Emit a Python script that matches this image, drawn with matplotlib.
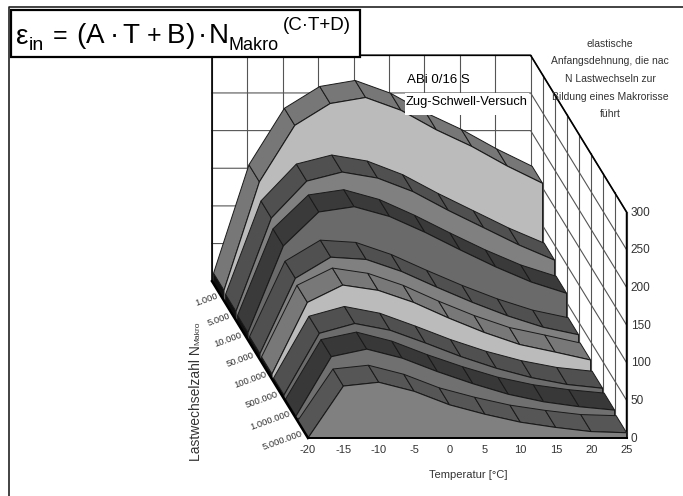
#!/usr/bin/env python3
"""Oblique 3-D area chart: elastic strain vs temperature and load cycles."""

import matplotlib
matplotlib.use("Agg")
import matplotlib.pyplot as plt
from matplotlib.patches import Polygon, Rectangle

plt.rcParams['font.family'] = ['Liberation Sans', 'DejaVu Sans']

# =============================================================================
# Data
# =============================================================================
temps = [-20, -15, -10, -5, 0, 5, 10, 15, 20, 25]
cycle_labels = ["5.000.000", "1.000.000", "500.000", "100.000",
                "50.000", "10.000", "5.000", "1.000"]
z_ticks = [0, 50, 100, 150, 200, 250, 300]

# one series per load cycle count, front to back
s_5000000 = [0, 69, 74, 62, 44, 31.5, 21, 14, 8.5, 7]
s_1000000 = [3, 82, 92, 80, 62, 46, 32, 22, 15.5, 11]
s_500000 = [5, 87, 100, 91, 74, 56, 40.5, 28, 19, 14]
s_100000 = [7, 102, 125, 118, 102, 81, 62, 46, 36, 25.5]
s_50000 = [8, 108, 136, 133, 117, 96, 76, 58, 43, 33]
s_10000 = [10, 125, 170, 177, 164, 143, 119.5, 97, 77, 62]
s_5000 = [12, 136, 185, 197, 189, 171, 146, 123, 100, 80]
s_1000 = [14, 158, 233, 262, 270, 253, 227, 205, 179, 156]
series = [s_5000000, s_1000000, s_500000, s_100000,
          s_50000, s_10000, s_5000, s_1000]

front_cols = ['#808080', '#707070', '#6c6c6c', '#bbbbbb',
              '#808080', '#6a6a6a', '#808080', '#bbbbbb']
top_cols = ['#565656', '#383838', '#505050', '#787878',
            '#505050', '#3a3a3a', '#505050', '#777777']

# oblique projection, in pixels of the picture
X0, Y0 = 308.0, 438.0
DX = 35.4
DEPTH_X, DEPTH_Y = 12.0, 19.6
ZS = 0.753
RIBBON = 0.87
N_DEPTH = 8


def proj(i, d, z):
    return X0 + DX * i - DEPTH_X * d, Y0 - DEPTH_Y * d - ZS * z


fig = plt.figure(figsize=(6.83, 4.96), dpi=100)
ax = fig.add_axes([0, 0, 1, 1])
ax.set_xlim(0, 683)
ax.set_ylim(496, 0)
ax.axis('off')

# ── walls ────────────────────────────────────────────────────────────────────
n = len(temps) - 1
zmax = z_ticks[-1]
GRID = '#555555'
for i in range(n + 1):
    p = [proj(i, N_DEPTH, 0), proj(i, N_DEPTH, zmax)]
    ax.plot(*zip(*p), color=GRID, lw=0.8, zorder=1)
for z in z_ticks:
    p = [proj(0, N_DEPTH, z), proj(n, N_DEPTH, z), proj(n, 0, z)]
    ax.plot(*zip(*p), color=GRID, lw=0.8, zorder=1)
for d in range(N_DEPTH):
    p = [proj(n, d, 0), proj(n, d, zmax)]
    ax.plot(*zip(*p), color=GRID, lw=0.8, zorder=1)

outline = [proj(0, N_DEPTH, 0), proj(0, N_DEPTH, zmax), proj(n, N_DEPTH, zmax),
           proj(n, 0, zmax), proj(n, 0, 0)]
ax.plot(*zip(*outline), color='black', lw=1.2, zorder=1.5)

# ── ribbons, back to front ───────────────────────────────────────────────────
EDGE = '#1a1a1a'
zo = 2
for d in range(len(series) - 1, -1, -1):
    vals = series[d]
    # left end
    end = [proj(0, d, 0), proj(0, d + RIBBON, 0),
           proj(0, d + RIBBON, vals[0]), proj(0, d, vals[0])]
    ax.add_patch(Polygon(end, closed=True, fc='#111111', ec='#111111', lw=0.6, zorder=zo))
    # top segments
    for i in range(n):
        quad = [proj(i, d, vals[i]), proj(i + 1, d, vals[i + 1]),
                proj(i + 1, d + RIBBON, vals[i + 1]), proj(i, d + RIBBON, vals[i])]
        ax.add_patch(Polygon(quad, closed=True, fc=top_cols[d], ec=EDGE, lw=0.7, zorder=zo))
    # front face
    face = [proj(0, d, 0)] + [proj(i, d, vals[i]) for i in range(n + 1)] + [proj(n, d, 0)]
    ax.add_patch(Polygon(face, closed=True, fc=front_cols[d], ec=EDGE, lw=0.8, zorder=zo))
    zo += 1

ax.plot(*zip(proj(0, N_DEPTH, 0), proj(0, 0, 0)), color='black', lw=1.8, zorder=zo)
ax.plot(*zip(proj(0, 0, 0), proj(n, 0, 0)), color='black', lw=1.4, zorder=zo)
zo += 1

# ── tick labels ──────────────────────────────────────────────────────────────
TXT = '#333333'
for i, t in enumerate(temps):
    x, y = proj(i, 0, 0)
    ax.text(x, y + 12, str(t), ha='center', va='center', fontsize=8, color=TXT, zorder=zo)
for z in z_ticks:
    x, y = proj(n, 0, z)
    ax.text(x + 4, y + 0.5, str(z), ha='left', va='center', fontsize=8.5, color=TXT, zorder=zo)
for d, lab in enumerate(cycle_labels):
    x, y = proj(0, d, 0)
    ax.text(x - 6, y - 5, lab, ha='right', va='center', rotation=20, rotation_mode='anchor',
            fontsize=6.8, color=TXT, zorder=zo)

ax.text(468, 475, "Temperatur [°C]", ha='center', va='center', fontsize=8, color=TXT)
ax.text(196, 403, "Lastwechselzahl N", ha='center', va='center', rotation=90, fontsize=10, color=TXT)
ax.text(198, 333, "Makro", ha='center', va='center', rotation=90, fontsize=6, color=TXT)

ann_lines = ["elastische", "Anfangsdehnung, die nac", "N Lastwechseln zur",
             "Bildung eines Makrorisse", "führt"]
for k, line in enumerate(ann_lines):
    ax.text(610, 44 + 17.5 * k, line, ha='center', va='center', fontsize=7.5, color=TXT, zorder=zo)

# ── series note ──────────────────────────────────────────────────────────────
ax.add_patch(Rectangle((405, 93), 124, 22, fc='white', ec='none', zorder=zo))
ax.text(407, 80, "ABi 0/16 S", ha='left', va='center', fontsize=9.5, color='black', zorder=zo + 1)
ax.text(406, 102, "Zug-Schwell-Versuch", ha='left', va='center', fontsize=9.3, color='black', zorder=zo + 1)

# ── formula box ──────────────────────────────────────────────────────────────
ax.add_patch(Rectangle((10.5, 10), 349, 47, fc='white', ec='black', lw=1.6, zorder=zo))
ft = zo + 1
ax.text(16, 37, "ε", ha='left', va='center', fontsize=20, zorder=ft)
ax.text(29, 45, "in", ha='left', va='center', fontsize=14, zorder=ft)
ax.text(53, 36, "=", ha='left', va='center', fontsize=18, zorder=ft)
ax.text(76, 36, "(", ha='left', va='center', fontsize=20, zorder=ft)
ax.text(86, 36, "A", ha='left', va='center', fontsize=20, zorder=ft)
ax.text(110, 36, "·", ha='left', va='center', fontsize=20, zorder=ft)
ax.text(122, 36, "T", ha='left', va='center', fontsize=20, zorder=ft)
ax.text(147, 36, "+", ha='left', va='center', fontsize=18, zorder=ft)
ax.text(167, 36, "B", ha='left', va='center', fontsize=20, zorder=ft)
ax.text(186, 36, ")", ha='left', va='center', fontsize=20, zorder=ft)
ax.text(198, 36, "·", ha='left', va='center', fontsize=20, zorder=ft)
ax.text(209, 36, "N", ha='left', va='center', fontsize=20, zorder=ft)
ax.text(229, 45, "Makro", ha='left', va='center', fontsize=13, zorder=ft)
ax.text(283, 25, "(C·T+D)", ha='left', va='center', fontsize=13.5, zorder=ft)

# ── outer frame ──────────────────────────────────────────────────────────────
ax.plot([9, 9, 683], [496, 7, 7], color='#222222', lw=1.2, zorder=zo)

fig.savefig("out.png", dpi=100)
